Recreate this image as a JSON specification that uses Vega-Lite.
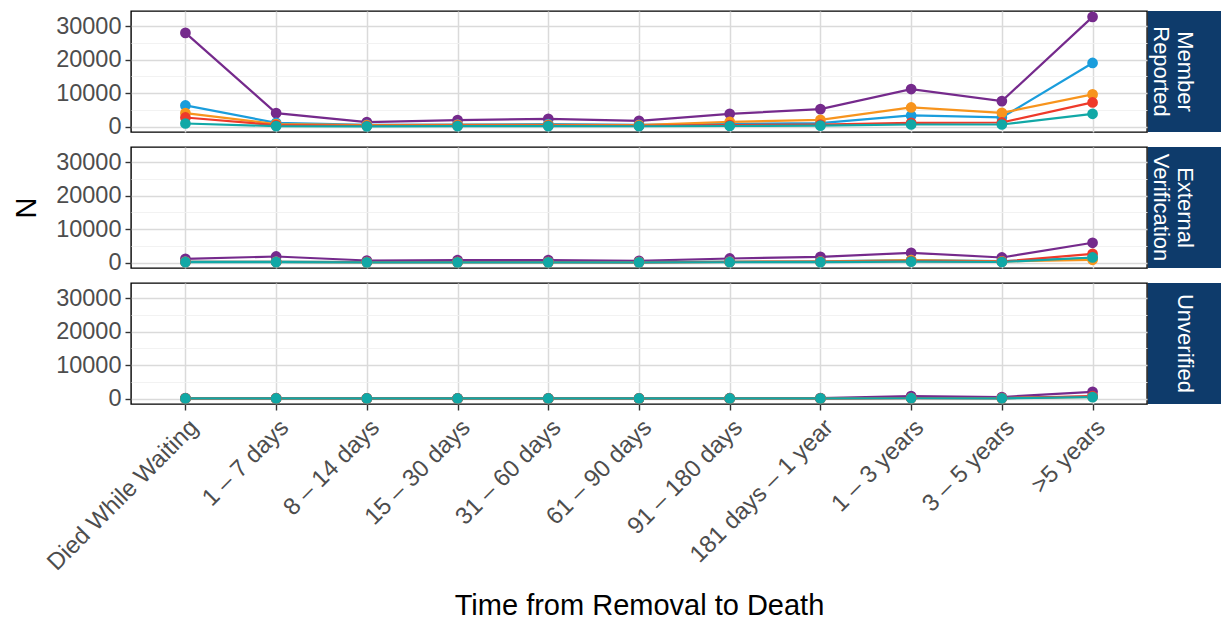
{
  "$schema": "https://vega.github.io/schema/vega-lite/v6.json",
  "padding": {"left": 11, "top": 10, "right": 0, "bottom": 0},
  "background": "white",
  "config": {
    "font": "Liberation Sans",
    "view": {"stroke": "black", "strokeWidth": 1.4},
    "axis": {
      "labelFont": "Liberation Sans",
      "labelFontSize": 23.5,
      "labelColor": "#4D4D4D",
      "labelLimit": 0,
      "titleFont": "Liberation Sans",
      "titleFontSize": 29,
      "titleFontWeight": "normal",
      "titleColor": "black",
      "tickColor": "#333333",
      "tickSize": 6,
      "tickWidth": 1.4,
      "labelPadding": 4,
      "domain": false,
      "gridColor": "#DADADA",
      "gridWidth": 1.5
    }
  },
  "datasets": {
    "counts": [
      {"panel": "Member Reported", "group": "Group 1", "time": "Died While Waiting", "n": 28000},
      {"panel": "Member Reported", "group": "Group 1", "time": "1 – 7 days", "n": 4000},
      {"panel": "Member Reported", "group": "Group 1", "time": "8 – 14 days", "n": 1300},
      {"panel": "Member Reported", "group": "Group 1", "time": "15 – 30 days", "n": 1900},
      {"panel": "Member Reported", "group": "Group 1", "time": "31 – 60 days", "n": 2300},
      {"panel": "Member Reported", "group": "Group 1", "time": "61 – 90 days", "n": 1700},
      {"panel": "Member Reported", "group": "Group 1", "time": "91 – 180 days", "n": 3800},
      {"panel": "Member Reported", "group": "Group 1", "time": "181 days – 1 year", "n": 5200},
      {"panel": "Member Reported", "group": "Group 1", "time": "1 – 3 years", "n": 11200},
      {"panel": "Member Reported", "group": "Group 1", "time": "3 – 5 years", "n": 7600},
      {"panel": "Member Reported", "group": "Group 1", "time": ">5 years", "n": 32800},
      {"panel": "Member Reported", "group": "Group 2", "time": "Died While Waiting", "n": 6300},
      {"panel": "Member Reported", "group": "Group 2", "time": "1 – 7 days", "n": 1100},
      {"panel": "Member Reported", "group": "Group 2", "time": "8 – 14 days", "n": 500},
      {"panel": "Member Reported", "group": "Group 2", "time": "15 – 30 days", "n": 600},
      {"panel": "Member Reported", "group": "Group 2", "time": "31 – 60 days", "n": 700},
      {"panel": "Member Reported", "group": "Group 2", "time": "61 – 90 days", "n": 500},
      {"panel": "Member Reported", "group": "Group 2", "time": "91 – 180 days", "n": 800},
      {"panel": "Member Reported", "group": "Group 2", "time": "181 days – 1 year", "n": 1000},
      {"panel": "Member Reported", "group": "Group 2", "time": "1 – 3 years", "n": 3300},
      {"panel": "Member Reported", "group": "Group 2", "time": "3 – 5 years", "n": 2700},
      {"panel": "Member Reported", "group": "Group 2", "time": ">5 years", "n": 19000},
      {"panel": "Member Reported", "group": "Group 3", "time": "Died While Waiting", "n": 4000},
      {"panel": "Member Reported", "group": "Group 3", "time": "1 – 7 days", "n": 700},
      {"panel": "Member Reported", "group": "Group 3", "time": "8 – 14 days", "n": 400},
      {"panel": "Member Reported", "group": "Group 3", "time": "15 – 30 days", "n": 500},
      {"panel": "Member Reported", "group": "Group 3", "time": "31 – 60 days", "n": 500},
      {"panel": "Member Reported", "group": "Group 3", "time": "61 – 90 days", "n": 400},
      {"panel": "Member Reported", "group": "Group 3", "time": "91 – 180 days", "n": 1400},
      {"panel": "Member Reported", "group": "Group 3", "time": "181 days – 1 year", "n": 2000},
      {"panel": "Member Reported", "group": "Group 3", "time": "1 – 3 years", "n": 5700},
      {"panel": "Member Reported", "group": "Group 3", "time": "3 – 5 years", "n": 4100},
      {"panel": "Member Reported", "group": "Group 3", "time": ">5 years", "n": 9600},
      {"panel": "Member Reported", "group": "Group 4", "time": "Died While Waiting", "n": 2700},
      {"panel": "Member Reported", "group": "Group 4", "time": "1 – 7 days", "n": 400},
      {"panel": "Member Reported", "group": "Group 4", "time": "8 – 14 days", "n": 200},
      {"panel": "Member Reported", "group": "Group 4", "time": "15 – 30 days", "n": 300},
      {"panel": "Member Reported", "group": "Group 4", "time": "31 – 60 days", "n": 300},
      {"panel": "Member Reported", "group": "Group 4", "time": "61 – 90 days", "n": 200},
      {"panel": "Member Reported", "group": "Group 4", "time": "91 – 180 days", "n": 400},
      {"panel": "Member Reported", "group": "Group 4", "time": "181 days – 1 year", "n": 600},
      {"panel": "Member Reported", "group": "Group 4", "time": "1 – 3 years", "n": 1100},
      {"panel": "Member Reported", "group": "Group 4", "time": "3 – 5 years", "n": 1200},
      {"panel": "Member Reported", "group": "Group 4", "time": ">5 years", "n": 7200},
      {"panel": "Member Reported", "group": "Group 5", "time": "Died While Waiting", "n": 900},
      {"panel": "Member Reported", "group": "Group 5", "time": "1 – 7 days", "n": 100},
      {"panel": "Member Reported", "group": "Group 5", "time": "8 – 14 days", "n": 50},
      {"panel": "Member Reported", "group": "Group 5", "time": "15 – 30 days", "n": 100},
      {"panel": "Member Reported", "group": "Group 5", "time": "31 – 60 days", "n": 100},
      {"panel": "Member Reported", "group": "Group 5", "time": "61 – 90 days", "n": 80},
      {"panel": "Member Reported", "group": "Group 5", "time": "91 – 180 days", "n": 150},
      {"panel": "Member Reported", "group": "Group 5", "time": "181 days – 1 year", "n": 250},
      {"panel": "Member Reported", "group": "Group 5", "time": "1 – 3 years", "n": 600},
      {"panel": "Member Reported", "group": "Group 5", "time": "3 – 5 years", "n": 600},
      {"panel": "Member Reported", "group": "Group 5", "time": ">5 years", "n": 3800},

      {"panel": "External Verification", "group": "Group 1", "time": "Died While Waiting", "n": 1100},
      {"panel": "External Verification", "group": "Group 1", "time": "1 – 7 days", "n": 1800},
      {"panel": "External Verification", "group": "Group 1", "time": "8 – 14 days", "n": 600},
      {"panel": "External Verification", "group": "Group 1", "time": "15 – 30 days", "n": 700},
      {"panel": "External Verification", "group": "Group 1", "time": "31 – 60 days", "n": 700},
      {"panel": "External Verification", "group": "Group 1", "time": "61 – 90 days", "n": 500},
      {"panel": "External Verification", "group": "Group 1", "time": "91 – 180 days", "n": 1200},
      {"panel": "External Verification", "group": "Group 1", "time": "181 days – 1 year", "n": 1700},
      {"panel": "External Verification", "group": "Group 1", "time": "1 – 3 years", "n": 2900},
      {"panel": "External Verification", "group": "Group 1", "time": "3 – 5 years", "n": 1500},
      {"panel": "External Verification", "group": "Group 1", "time": ">5 years", "n": 5900},
      {"panel": "External Verification", "group": "Group 2", "time": "Died While Waiting", "n": 300},
      {"panel": "External Verification", "group": "Group 2", "time": "1 – 7 days", "n": 300},
      {"panel": "External Verification", "group": "Group 2", "time": "8 – 14 days", "n": 150},
      {"panel": "External Verification", "group": "Group 2", "time": "15 – 30 days", "n": 150},
      {"panel": "External Verification", "group": "Group 2", "time": "31 – 60 days", "n": 150},
      {"panel": "External Verification", "group": "Group 2", "time": "61 – 90 days", "n": 100},
      {"panel": "External Verification", "group": "Group 2", "time": "91 – 180 days", "n": 250},
      {"panel": "External Verification", "group": "Group 2", "time": "181 days – 1 year", "n": 350},
      {"panel": "External Verification", "group": "Group 2", "time": "1 – 3 years", "n": 700},
      {"panel": "External Verification", "group": "Group 2", "time": "3 – 5 years", "n": 400},
      {"panel": "External Verification", "group": "Group 2", "time": ">5 years", "n": 1300},
      {"panel": "External Verification", "group": "Group 3", "time": "Died While Waiting", "n": 200},
      {"panel": "External Verification", "group": "Group 3", "time": "1 – 7 days", "n": 200},
      {"panel": "External Verification", "group": "Group 3", "time": "8 – 14 days", "n": 100},
      {"panel": "External Verification", "group": "Group 3", "time": "15 – 30 days", "n": 100},
      {"panel": "External Verification", "group": "Group 3", "time": "31 – 60 days", "n": 100},
      {"panel": "External Verification", "group": "Group 3", "time": "61 – 90 days", "n": 100},
      {"panel": "External Verification", "group": "Group 3", "time": "91 – 180 days", "n": 200},
      {"panel": "External Verification", "group": "Group 3", "time": "181 days – 1 year", "n": 300},
      {"panel": "External Verification", "group": "Group 3", "time": "1 – 3 years", "n": 700},
      {"panel": "External Verification", "group": "Group 3", "time": "3 – 5 years", "n": 350},
      {"panel": "External Verification", "group": "Group 3", "time": ">5 years", "n": 800},
      {"panel": "External Verification", "group": "Group 4", "time": "Died While Waiting", "n": 150},
      {"panel": "External Verification", "group": "Group 4", "time": "1 – 7 days", "n": 150},
      {"panel": "External Verification", "group": "Group 4", "time": "8 – 14 days", "n": 80},
      {"panel": "External Verification", "group": "Group 4", "time": "15 – 30 days", "n": 80},
      {"panel": "External Verification", "group": "Group 4", "time": "31 – 60 days", "n": 80},
      {"panel": "External Verification", "group": "Group 4", "time": "61 – 90 days", "n": 60},
      {"panel": "External Verification", "group": "Group 4", "time": "91 – 180 days", "n": 150},
      {"panel": "External Verification", "group": "Group 4", "time": "181 days – 1 year", "n": 200},
      {"panel": "External Verification", "group": "Group 4", "time": "1 – 3 years", "n": 400},
      {"panel": "External Verification", "group": "Group 4", "time": "3 – 5 years", "n": 250},
      {"panel": "External Verification", "group": "Group 4", "time": ">5 years", "n": 2600},
      {"panel": "External Verification", "group": "Group 5", "time": "Died While Waiting", "n": 100},
      {"panel": "External Verification", "group": "Group 5", "time": "1 – 7 days", "n": 100},
      {"panel": "External Verification", "group": "Group 5", "time": "8 – 14 days", "n": 50},
      {"panel": "External Verification", "group": "Group 5", "time": "15 – 30 days", "n": 50},
      {"panel": "External Verification", "group": "Group 5", "time": "31 – 60 days", "n": 50},
      {"panel": "External Verification", "group": "Group 5", "time": "61 – 90 days", "n": 40},
      {"panel": "External Verification", "group": "Group 5", "time": "91 – 180 days", "n": 80},
      {"panel": "External Verification", "group": "Group 5", "time": "181 days – 1 year", "n": 120},
      {"panel": "External Verification", "group": "Group 5", "time": "1 – 3 years", "n": 250},
      {"panel": "External Verification", "group": "Group 5", "time": "3 – 5 years", "n": 150},
      {"panel": "External Verification", "group": "Group 5", "time": ">5 years", "n": 1500},

      {"panel": "Unverified", "group": "Group 1", "time": "Died While Waiting", "n": 100},
      {"panel": "Unverified", "group": "Group 1", "time": "1 – 7 days", "n": 100},
      {"panel": "Unverified", "group": "Group 1", "time": "8 – 14 days", "n": 40},
      {"panel": "Unverified", "group": "Group 1", "time": "15 – 30 days", "n": 50},
      {"panel": "Unverified", "group": "Group 1", "time": "31 – 60 days", "n": 50},
      {"panel": "Unverified", "group": "Group 1", "time": "61 – 90 days", "n": 40},
      {"panel": "Unverified", "group": "Group 1", "time": "91 – 180 days", "n": 80},
      {"panel": "Unverified", "group": "Group 1", "time": "181 days – 1 year", "n": 150},
      {"panel": "Unverified", "group": "Group 1", "time": "1 – 3 years", "n": 700},
      {"panel": "Unverified", "group": "Group 1", "time": "3 – 5 years", "n": 450},
      {"panel": "Unverified", "group": "Group 1", "time": ">5 years", "n": 2000},
      {"panel": "Unverified", "group": "Group 2", "time": "Died While Waiting", "n": 30},
      {"panel": "Unverified", "group": "Group 2", "time": "1 – 7 days", "n": 30},
      {"panel": "Unverified", "group": "Group 2", "time": "8 – 14 days", "n": 15},
      {"panel": "Unverified", "group": "Group 2", "time": "15 – 30 days", "n": 15},
      {"panel": "Unverified", "group": "Group 2", "time": "31 – 60 days", "n": 15},
      {"panel": "Unverified", "group": "Group 2", "time": "61 – 90 days", "n": 10},
      {"panel": "Unverified", "group": "Group 2", "time": "91 – 180 days", "n": 25},
      {"panel": "Unverified", "group": "Group 2", "time": "181 days – 1 year", "n": 50},
      {"panel": "Unverified", "group": "Group 2", "time": "1 – 3 years", "n": 150},
      {"panel": "Unverified", "group": "Group 2", "time": "3 – 5 years", "n": 100},
      {"panel": "Unverified", "group": "Group 2", "time": ">5 years", "n": 600},
      {"panel": "Unverified", "group": "Group 3", "time": "Died While Waiting", "n": 30},
      {"panel": "Unverified", "group": "Group 3", "time": "1 – 7 days", "n": 30},
      {"panel": "Unverified", "group": "Group 3", "time": "8 – 14 days", "n": 15},
      {"panel": "Unverified", "group": "Group 3", "time": "15 – 30 days", "n": 15},
      {"panel": "Unverified", "group": "Group 3", "time": "31 – 60 days", "n": 15},
      {"panel": "Unverified", "group": "Group 3", "time": "61 – 90 days", "n": 10},
      {"panel": "Unverified", "group": "Group 3", "time": "91 – 180 days", "n": 25},
      {"panel": "Unverified", "group": "Group 3", "time": "181 days – 1 year", "n": 50},
      {"panel": "Unverified", "group": "Group 3", "time": "1 – 3 years", "n": 150},
      {"panel": "Unverified", "group": "Group 3", "time": "3 – 5 years", "n": 100},
      {"panel": "Unverified", "group": "Group 3", "time": ">5 years", "n": 500},
      {"panel": "Unverified", "group": "Group 4", "time": "Died While Waiting", "n": 20},
      {"panel": "Unverified", "group": "Group 4", "time": "1 – 7 days", "n": 20},
      {"panel": "Unverified", "group": "Group 4", "time": "8 – 14 days", "n": 10},
      {"panel": "Unverified", "group": "Group 4", "time": "15 – 30 days", "n": 10},
      {"panel": "Unverified", "group": "Group 4", "time": "31 – 60 days", "n": 10},
      {"panel": "Unverified", "group": "Group 4", "time": "61 – 90 days", "n": 10},
      {"panel": "Unverified", "group": "Group 4", "time": "91 – 180 days", "n": 20},
      {"panel": "Unverified", "group": "Group 4", "time": "181 days – 1 year", "n": 30},
      {"panel": "Unverified", "group": "Group 4", "time": "1 – 3 years", "n": 100},
      {"panel": "Unverified", "group": "Group 4", "time": "3 – 5 years", "n": 80},
      {"panel": "Unverified", "group": "Group 4", "time": ">5 years", "n": 700},
      {"panel": "Unverified", "group": "Group 5", "time": "Died While Waiting", "n": 20},
      {"panel": "Unverified", "group": "Group 5", "time": "1 – 7 days", "n": 20},
      {"panel": "Unverified", "group": "Group 5", "time": "8 – 14 days", "n": 10},
      {"panel": "Unverified", "group": "Group 5", "time": "15 – 30 days", "n": 10},
      {"panel": "Unverified", "group": "Group 5", "time": "31 – 60 days", "n": 10},
      {"panel": "Unverified", "group": "Group 5", "time": "61 – 90 days", "n": 10},
      {"panel": "Unverified", "group": "Group 5", "time": "91 – 180 days", "n": 20},
      {"panel": "Unverified", "group": "Group 5", "time": "181 days – 1 year", "n": 30},
      {"panel": "Unverified", "group": "Group 5", "time": "1 – 3 years", "n": 80},
      {"panel": "Unverified", "group": "Group 5", "time": "3 – 5 years", "n": 60},
      {"panel": "Unverified", "group": "Group 5", "time": ">5 years", "n": 400}
    ],
    "strips": [
      {"panel": "Member Reported", "label": "Member\nReported"},
      {"panel": "External Verification", "label": "External\nVerification"},
      {"panel": "Unverified", "label": "Unverified"}
    ]
  },
  "spacing": 7,
  "vconcat": [
    {
      "spacing": 0,
      "hconcat": [
        {
          "width": 1016, "height": 121,
          "data": {"name": "counts"},
          "transform": [{"filter": "datum.panel === 'Member Reported'"}],
          "encoding": {
            "x": {"field": "time", "type": "ordinal",
              "sort": ["Died While Waiting","1 – 7 days","8 – 14 days","15 – 30 days","31 – 60 days","61 – 90 days","91 – 180 days","181 days – 1 year","1 – 3 years","3 – 5 years",">5 years"],
              "scale": {"type": "point", "padding": 0.6},
              "axis": {"labels": false, "ticks": false, "domain": false, "title": null, "grid": true}},
            "y": {"field": "n", "type": "quantitative",
              "scale": {"domain": [-1645, 34545], "nice": false, "zero": false},
              "axis": {"values": [0,5000,10000,15000,20000,25000,30000], "format": "d", "title": null,
                "labelExpr": "datum.value % 10000 === 0 ? datum.label : ''",
                "tickOpacity": {"condition": {"test": "datum.value % 10000 === 0", "value": 1}, "value": 0},
                "gridColor": {"condition": {"test": "datum.value % 10000 === 0", "value": "#DADADA"}, "value": "#F0F0F0"},
                "gridWidth": {"condition": {"test": "datum.value % 10000 === 0", "value": 1.5}, "value": 0.9}}},
            "color": {"field": "group", "type": "nominal",
              "scale": {"domain": ["Group 1","Group 2","Group 3","Group 4","Group 5"], "range": ["#752A8C","#1A9DDC","#F7941D","#EE3A2A","#11A8A6"]},
              "legend": null}
          },
          "layer": [
            {"mark": {"type": "line", "strokeWidth": 2.2}},
            {"mark": {"type": "circle", "size": 115, "opacity": 1}}
          ]
        },
        {
          "width": 73, "height": 121,
          "view": {"fill": "#0E3B6B", "stroke": null},
          "data": {"name": "strips"},
          "transform": [{"filter": "datum.panel === 'Member Reported'"}],
          "mark": {"type": "text", "angle": 90, "color": "white", "fontSize": 22, "lineHeight": 24, "lineBreak": "\n", "align": "center", "baseline": "middle", "font": "Liberation Sans"},
          "encoding": {"text": {"field": "label"}}
        }
      ]
    },
    {
      "spacing": 0,
      "hconcat": [
        {
          "width": 1016, "height": 121,
          "data": {"name": "counts"},
          "transform": [{"filter": "datum.panel === 'External Verification'"}],
          "encoding": {
            "x": {"field": "time", "type": "ordinal",
              "sort": ["Died While Waiting","1 – 7 days","8 – 14 days","15 – 30 days","31 – 60 days","61 – 90 days","91 – 180 days","181 days – 1 year","1 – 3 years","3 – 5 years",">5 years"],
              "scale": {"type": "point", "padding": 0.6},
              "axis": {"labels": false, "ticks": false, "domain": false, "title": null, "grid": true}},
            "y": {"field": "n", "type": "quantitative",
              "scale": {"domain": [-1645, 34545], "nice": false, "zero": false},
              "axis": {"values": [0,5000,10000,15000,20000,25000,30000], "format": "d", "title": "N", "titlePadding": 14,
                "labelExpr": "datum.value % 10000 === 0 ? datum.label : ''",
                "tickOpacity": {"condition": {"test": "datum.value % 10000 === 0", "value": 1}, "value": 0},
                "gridColor": {"condition": {"test": "datum.value % 10000 === 0", "value": "#DADADA"}, "value": "#F0F0F0"},
                "gridWidth": {"condition": {"test": "datum.value % 10000 === 0", "value": 1.5}, "value": 0.9}}},
            "color": {"field": "group", "type": "nominal",
              "scale": {"domain": ["Group 1","Group 2","Group 3","Group 4","Group 5"], "range": ["#752A8C","#1A9DDC","#F7941D","#EE3A2A","#11A8A6"]},
              "legend": null}
          },
          "layer": [
            {"mark": {"type": "line", "strokeWidth": 2.2}},
            {"mark": {"type": "circle", "size": 115, "opacity": 1}}
          ]
        },
        {
          "width": 73, "height": 121,
          "view": {"fill": "#0E3B6B", "stroke": null},
          "data": {"name": "strips"},
          "transform": [{"filter": "datum.panel === 'External Verification'"}],
          "mark": {"type": "text", "angle": 90, "color": "white", "fontSize": 22, "lineHeight": 24, "lineBreak": "\n", "align": "center", "baseline": "middle", "font": "Liberation Sans"},
          "encoding": {"text": {"field": "label"}}
        }
      ]
    },
    {
      "spacing": 0,
      "hconcat": [
        {
          "width": 1016, "height": 121,
          "data": {"name": "counts"},
          "transform": [{"filter": "datum.panel === 'Unverified'"}],
          "encoding": {
            "x": {"field": "time", "type": "ordinal",
              "sort": ["Died While Waiting","1 – 7 days","8 – 14 days","15 – 30 days","31 – 60 days","61 – 90 days","91 – 180 days","181 days – 1 year","1 – 3 years","3 – 5 years",">5 years"],
              "scale": {"type": "point", "padding": 0.6},
              "axis": {"title": "Time from Removal to Death", "grid": true, "labelAngle": -45, "labelAlign": "right", "labelBaseline": "top", "labelPadding": 5, "labelFontSize": 24, "titlePadding": 17}},
            "y": {"field": "n", "type": "quantitative",
              "scale": {"domain": [-1645, 34545], "nice": false, "zero": false},
              "axis": {"values": [0,5000,10000,15000,20000,25000,30000], "format": "d", "title": null,
                "labelExpr": "datum.value % 10000 === 0 ? datum.label : ''",
                "tickOpacity": {"condition": {"test": "datum.value % 10000 === 0", "value": 1}, "value": 0},
                "gridColor": {"condition": {"test": "datum.value % 10000 === 0", "value": "#DADADA"}, "value": "#F0F0F0"},
                "gridWidth": {"condition": {"test": "datum.value % 10000 === 0", "value": 1.5}, "value": 0.9}}},
            "color": {"field": "group", "type": "nominal",
              "scale": {"domain": ["Group 1","Group 2","Group 3","Group 4","Group 5"], "range": ["#752A8C","#1A9DDC","#F7941D","#EE3A2A","#11A8A6"]},
              "legend": null}
          },
          "layer": [
            {"mark": {"type": "line", "strokeWidth": 2.2}},
            {"mark": {"type": "circle", "size": 115, "opacity": 1}}
          ]
        },
        {
          "width": 73, "height": 121,
          "view": {"fill": "#0E3B6B", "stroke": null},
          "data": {"name": "strips"},
          "transform": [{"filter": "datum.panel === 'Unverified'"}],
          "mark": {"type": "text", "angle": 90, "color": "white", "fontSize": 22, "lineHeight": 24, "lineBreak": "\n", "align": "center", "baseline": "middle", "font": "Liberation Sans"},
          "encoding": {"text": {"field": "label"}}
        }
      ]
    }
  ]
}
